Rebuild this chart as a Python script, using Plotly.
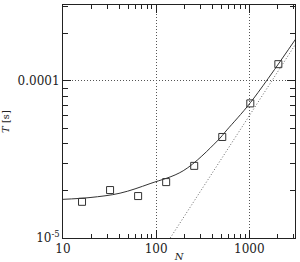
import plotly.graph_objects as go

# measured points (open squares)
meas_N = [16, 32, 64, 128, 256, 512, 1024, 2048]
meas_T = [1.70e-5, 2.02e-5, 1.85e-5, 2.27e-5, 2.88e-5, 4.4e-5, 7.2e-5, 1.28e-4]

# solid fit curve
fit_N = [10, 19.5, 41, 86, 195, 453, 575, 1025, 3180]
fit_T = [1.763e-5, 1.81e-5, 1.93e-5, 2.22e-5, 2.68e-5, 4.15e-5, 4.88e-5, 7.27e-5, 1.87e-4]

# dotted asymptote
asym_N = [141.6, 3100]
asym_T = [1.0e-5, 1.70e-4]

x_ticks = [10, 100, 1000]
x_ticktext = ["10", "100", "1000"]
y_ticks = [1e-5, 1e-4]
y_ticktext = ["10<sup>-5</sup>", "0.0001"]
x_minor = [20, 30, 40, 50, 60, 70, 80, 90, 200, 300, 400, 500, 600, 700, 800, 900, 2000, 3000]
y_minor = [2e-5, 3e-5, 4e-5, 5e-5, 6e-5, 7e-5, 8e-5, 9e-5, 2e-4, 3e-4]

font = "DejaVu Serif"

fig = go.Figure()
fig.add_trace(go.Scatter(x=asym_N, y=asym_T, mode="lines",
                         line=dict(color="#666", width=1, dash="1px,2px"), showlegend=False))
fig.add_trace(go.Scatter(x=fit_N, y=fit_T, mode="lines", line_shape="spline",
                         line=dict(color="#333", width=1), showlegend=False))
fig.add_trace(go.Scatter(x=meas_N, y=meas_T, mode="markers",
                         marker=dict(symbol="square-open", size=7, color="#333",
                                     line=dict(width=1, color="#333")),
                         showlegend=False))

axis_common = dict(
    showline=True, linecolor="#222", linewidth=1, mirror="allticks",
    ticks="inside", ticklen=8, tickcolor="#222", tickwidth=1,
    showgrid=True, gridcolor="#555", griddash="1px,2px", gridwidth=1,
    zeroline=False, automargin=False,
    tickfont=dict(family=font, size=12, color="#222"),
)

fig.update_xaxes(type="log", range=[1, 3.49], tickvals=x_ticks, ticktext=x_ticktext,
                 minor=dict(tickvals=x_minor, ticks="inside", ticklen=4,
                            tickcolor="#222", showgrid=False),
                 title=dict(text="<i>N</i>", font=dict(family=font, size=10, color="#222"),
                            standoff=0),
                 **axis_common)
fig.update_yaxes(type="log", range=[-5, -3.516], tickvals=y_ticks, ticktext=y_ticktext,
                 minor=dict(tickvals=y_minor, ticks="inside", ticklen=5,
                            tickcolor="#222", showgrid=False),
                 title=dict(text="<i>T</i> [s]", font=dict(family=font, size=10, color="#222"),
                            standoff=8),
                 **axis_common)

fig.update_layout(width=300, height=262, margin=dict(l=63, r=5, t=5, b=24),
                  plot_bgcolor="white", paper_bgcolor="white")
fig.write_html("out.html")
